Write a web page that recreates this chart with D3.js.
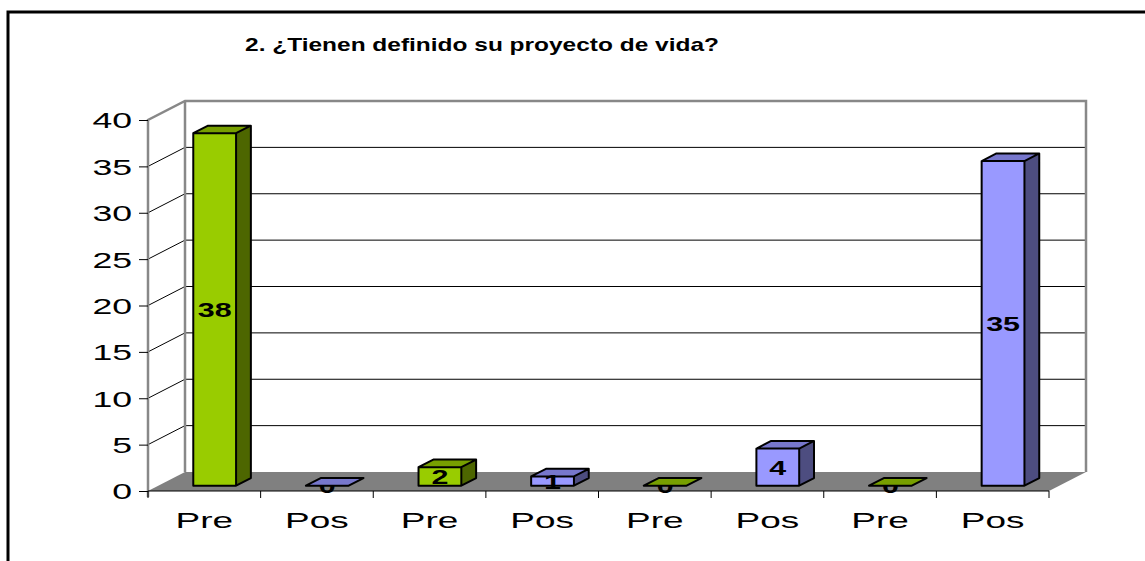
<!DOCTYPE html>
<html>
<head>
<meta charset="utf-8">
<script src="https://cdn.jsdelivr.net/npm/d3@7/dist/d3.min.js"></script>
<style>
  body { margin: 0; background: #fff; }
  svg { display: block; font-family: "Liberation Sans", Arial, sans-serif; }
</style>
</head>
<body>
<div id="chart"></div>
<script>
// data
var titleText = '2. ¿Tienen definido su proyecto de vida?';
var categories = ['Pre', 'Pos', 'Pre', 'Pos', 'Pre', 'Pos', 'Pre', 'Pos'];
var values = [38, 0, 2, 1, 0, 4, 0, 35];
var yTicks = [0, 5, 10, 15, 20, 25, 30, 35, 40];

// face colours per series (front, top, side)
var colors = {
  Pre: { front: '#99cc00', top: '#779f00', side: '#4d6600' },
  Pos: { front: '#9999ff', top: '#7777cc', side: '#4d4d80' }
};

const W = 1145, H = 561;
const DX = 37, DY = -19;        // depth of the floor
const Z0 = 0.28, Z1 = 0.68;     // bar depth inside the floor

// the original picture is stretched sideways, so text is too
function wideText(g, px, py, sx) {
  return g.append('text').attr('transform', 'translate(' + px + ',' + py + ') scale(' + sx + ',1)');
}

const svg = d3.select('#chart').append('svg')
  .attr('width', W).attr('height', H);

// outer frame (only top and left visible)
svg.append('path')
  .attr('d', 'M8,' + H + ' L8,12 L' + W + ',12')
  .attr('fill', 'none').attr('stroke', '#000').attr('stroke-width', 3);

wideText(svg, 482, 51, 1.36)
  .attr('text-anchor', 'middle')
  .attr('font-size', 18).attr('font-weight', 'bold')
  .text(titleText);

const x = d3.scaleBand().domain(d3.range(categories.length)).range([148, 1049]);
const y = d3.scaleLinear().domain([0, 40]).range([491, 120]);

const x0 = x.range()[0], x1 = x.range()[1];
const y0 = y(0), yTop = y(40);

// left wall and back wall
svg.append('polygon')
  .attr('points', [[x0, y0], [x0, yTop], [x0 + DX, yTop + DY], [x0 + DX, y0 + DY]].join(' '))
  .attr('fill', '#fff');
svg.append('rect')
  .attr('x', x0 + DX).attr('y', yTop + DY)
  .attr('width', x1 - x0).attr('height', y0 - yTop)
  .attr('fill', '#fff');

// gridlines: diagonal on side wall + horizontal on back wall
yTicks.filter(d => d > 0 && d < 40).forEach(function(t) {
  svg.append('path')
    .attr('d', 'M' + x0 + ',' + y(t) + ' L' + (x0 + DX) + ',' + (y(t) + DY) + ' L' + (x1 + DX) + ',' + (y(t) + DY))
    .attr('fill', 'none').attr('stroke', '#000').attr('stroke-width', 1);
});

// wall borders
svg.append('path')
  .attr('d', 'M' + x0 + ',' + (y0 + 6) + ' L' + x0 + ',' + yTop + ' L' + (x0 + DX) + ',' + (yTop + DY) +
    ' L' + (x1 + DX) + ',' + (yTop + DY) + ' L' + (x1 + DX) + ',' + (y0 + DY))
  .attr('fill', 'none').attr('stroke', '#888').attr('stroke-width', 2.5);
svg.append('line')
  .attr('x1', x0 + DX).attr('x2', x0 + DX)
  .attr('y1', yTop + DY).attr('y2', y0 + DY)
  .attr('stroke', '#888').attr('stroke-width', 2.5);

// floor
svg.append('polygon')
  .attr('points', [[x0, y0], [x1, y0], [x1 + DX, y0 + DY], [x0 + DX, y0 + DY]].join(' '))
  .attr('fill', '#808080');

// y axis ticks and labels
const ySx = 1.62;
const yAxis = d3.axisLeft(y).tickValues(yTicks).tickSize(9).tickPadding(7);
const gy = svg.append('g').attr('transform', 'translate(' + x0 + ',0)').call(yAxis);
gy.select('.domain').remove();
gy.selectAll('line').attr('stroke', '#000');
gy.selectAll('text')
  .attr('font-size', 22).attr('font-family', '"Liberation Sans", Arial, sans-serif')
  .attr('fill', '#000').attr('dy', '0.36em')
  .attr('x', -16 / ySx)
  .attr('transform', 'scale(' + ySx + ',1)');

// x axis line, ticks at band boundaries, labels at band centres
svg.append('line')
  .attr('x1', x0).attr('x2', x1).attr('y1', y0).attr('y2', y0)
  .attr('stroke', '#000').attr('stroke-width', 1);
svg.selectAll('.xtick')
  .data(d3.range(categories.length + 1))
  .enter().append('line')
  .attr('class', 'xtick')
  .attr('x1', i => x0 + i * x.bandwidth()).attr('x2', i => x0 + i * x.bandwidth())
  .attr('y1', y0).attr('y2', y0 + 7)
  .attr('stroke', '#000');
categories.forEach(function(c, i) {
  wideText(svg, x(i) + x.bandwidth() / 2, 528, 1.68)
    .attr('text-anchor', 'middle')
    .attr('font-size', 22)
    .text(c);
});

// bars
const barW = x.bandwidth() * 0.38;
const depth = Z1 - Z0;
var bars = values.map(function(v, i) {
  var bx = x(i) + (x.bandwidth() - barW) / 2 + Z0 * DX;
  return {
    v: v, c: colors[categories[i]],
    bx: bx,
    yt: y(v) + Z0 * DY,
    yb: y(0) + Z0 * DY
  };
});

function label(g, list) {
  list.forEach(function(d) {
    wideText(g, d.bx + barW / 2, (d.yt + d.yb) / 2, 1.45)
      .attr('dy', '0.36em')
      .attr('text-anchor', 'middle')
      .attr('font-size', 21).attr('font-weight', 'bold')
      .text(d.v);
  });
}

// zero labels sit beneath their flat bars
label(svg.append('g'), bars.filter(d => d.v === 0));

const gb = svg.append('g').selectAll('g').data(bars).enter().append('g');
const ddx = depth * DX, ddy = depth * DY;
gb.filter(d => d.v > 0).append('rect')
  .attr('x', d => d.bx).attr('y', d => d.yt)
  .attr('width', barW).attr('height', d => d.yb - d.yt)
  .attr('fill', d => d.c.front);
gb.filter(d => d.v > 0).append('polygon')
  .attr('points', d => [[d.bx + barW, d.yt], [d.bx + barW + ddx, d.yt + ddy],
    [d.bx + barW + ddx, d.yb + ddy], [d.bx + barW, d.yb]].join(' '))
  .attr('fill', d => d.c.side);
gb.append('polygon')
  .attr('points', d => [[d.bx, d.yt], [d.bx + barW, d.yt], [d.bx + barW + ddx, d.yt + ddy],
    [d.bx + ddx, d.yt + ddy]].join(' '))
  .attr('fill', d => d.c.top);
gb.append('path')
  .attr('d', function(d) {
    var r = d.bx + barW;
    return 'M' + d.bx + ',' + d.yb + ' L' + d.bx + ',' + d.yt + ' L' + (d.bx + ddx) + ',' + (d.yt + ddy) +
      ' L' + (r + ddx) + ',' + (d.yt + ddy) + ' L' + (r + ddx) + ',' + (d.yb + ddy) + ' L' + r + ',' + d.yb + ' Z' +
      ' M' + d.bx + ',' + d.yt + ' L' + r + ',' + d.yt + ' L' + (r + ddx) + ',' + (d.yt + ddy) +
      ' M' + r + ',' + d.yt + ' L' + r + ',' + d.yb;
  })
  .attr('fill', 'none').attr('stroke', '#000').attr('stroke-width', 2).attr('stroke-linejoin', 'round');

label(svg.append('g'), bars.filter(d => d.v > 0));
</script>
</body>
</html>
